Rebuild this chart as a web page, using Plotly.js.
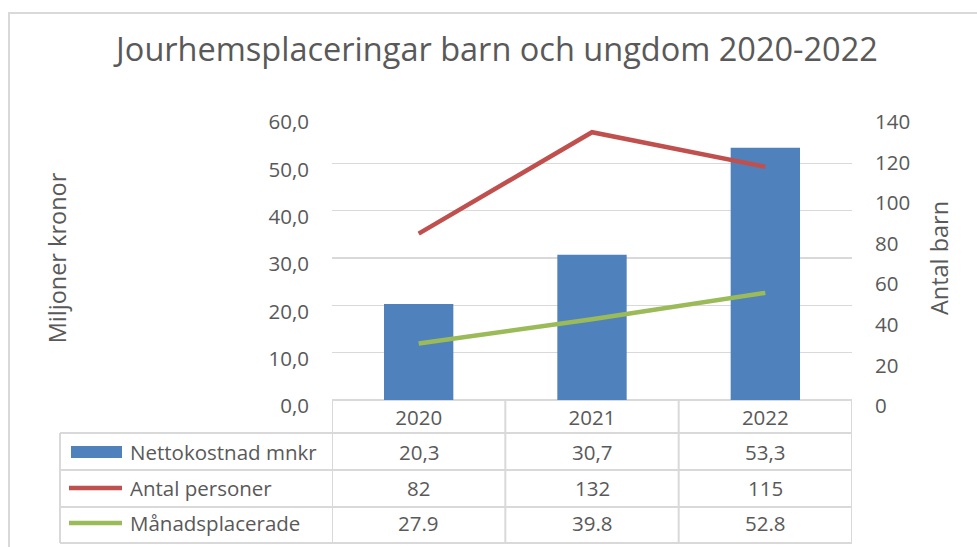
<!DOCTYPE html>
<html>
<head>
<meta charset="utf-8">
<script src="https://cdn.plot.ly/plotly-3.0.1.min.js"></script>
<style>
  html, body { margin: 0; padding: 0; background: #ffffff; }
  #chart { width: 977px; height: 547px; }
</style>
</head>
<body>
<div id="chart"></div>
<script>
// ---- data ----
const years = ['2020', '2021', '2022'];
const seriesNames = ['Nettokostnad mnkr', 'Antal personer', 'Månadsplacerade'];
const nettokostnad = [20.3, 30.7, 53.3];      // miljoner kronor (left axis)
const antalPersoner = [82, 132, 115];         // antal barn (right axis)
const manadsplacerade = [27.9, 39.8, 52.8];   // antal barn (right axis)
const leftTickVals = [0, 10, 20, 30, 40, 50, 60];
const rightTickVals = [0, 20, 40, 60, 80, 100, 120, 140];

// ---- style ----
const FONT = 'Open Sans, Lato, sans-serif';
const TXT = '#595959';
const GRID = '#d9d9d9';
const BLUE = '#4f81bd', RED = '#c0504d', GREEN = '#9bbb59';

// page geometry (px)
const W = 977, H = 547;
const L = 332, R = 852, T = 116, B = 400;
const px = x => (x - L) / (R - L);
const py = y => (B - y) / (B - T);

const fmtComma = v => v.toFixed(1).replace('.', ',');
const fmtDot = v => v.toFixed(1);

const traces = [
  { type: 'bar', name: seriesNames[0], x: years, y: nettokostnad, yaxis: 'y',
    marker: { color: BLUE }, hoverinfo: 'skip' },
  { type: 'scatter', mode: 'lines', name: seriesNames[1], x: years, y: antalPersoner, yaxis: 'y2',
    line: { color: RED, width: 4.5 }, hoverinfo: 'skip' },
  { type: 'scatter', mode: 'lines', name: seriesNames[2], x: years, y: manadsplacerade, yaxis: 'y2',
    line: { color: GREEN, width: 4.5 }, hoverinfo: 'skip' }
];

// table rows
const rowY = [452, 488, 523];
const rowText = [nettokostnad.map(fmtComma), antalPersoner.map(String), manadsplacerade.map(fmtDot)];
const annotations = [];
seriesNames.forEach((name, r) => {
  annotations.push({ xref: 'paper', yref: 'paper', x: px(128), y: py(rowY[r]), xanchor: 'left', yanchor: 'middle',
    text: name, showarrow: false, font: { family: FONT, size: 20.5, color: TXT } });
  years.forEach((yr, c) => {
    annotations.push({ xref: 'x', yref: 'paper', x: c, y: py(rowY[r]), xanchor: 'center', yanchor: 'middle',
      text: rowText[r][c], showarrow: false, font: { family: FONT, size: 20.5, color: TXT } });
  });
});

const shapes = [];
const line = (x0, y0, x1, y1, xref) => ({ type: 'line', xref: xref || 'paper', yref: 'paper',
  x0: x0, y0: y0, x1: x1, y1: y1, line: { color: GRID, width: 2 } });
// outer chart border
shapes.push({ type: 'rect', xref: 'paper', yref: 'paper', x0: px(9), y0: py(H + 20), x1: px(W + 20), y1: py(13),
  line: { color: GRID, width: 2 }, fillcolor: 'rgba(0,0,0,0)', layer: 'below' });
// table horizontal lines
[433, 470, 507, 543].forEach(y => shapes.push(line(px(60), py(y), px(R), py(y))));
// table vertical lines (category boundaries)
[-0.5, 0.5, 1.5, 2.5].forEach(x => shapes.push(line(x, py(B), x, py(543), 'x')));
shapes.push(line(px(60), py(433), px(60), py(543)));
// legend keys inside table
shapes.push({ type: 'rect', xref: 'paper', yref: 'paper', x0: px(71), x1: px(122), y0: py(458), y1: py(446),
  line: { width: 0 }, fillcolor: BLUE });
shapes.push({ type: 'line', xref: 'paper', yref: 'paper', x0: px(69), x1: px(122), y0: py(rowY[1]), y1: py(rowY[1]),
  line: { color: RED, width: 4.5 } });
shapes.push({ type: 'line', xref: 'paper', yref: 'paper', x0: px(69), x1: px(122), y0: py(rowY[2]), y1: py(rowY[2]),
  line: { color: GREEN, width: 4.5 } });

const layout = {
  width: W, height: H,
  margin: { l: L, r: W - R, t: T, b: H - B, pad: 0 },
  paper_bgcolor: '#ffffff', plot_bgcolor: '#ffffff',
  showlegend: false,
  bargap: 0.6,
  font: { family: FONT, color: TXT },
  title: { text: 'Jourhemsplaceringar barn och ungdom 2020-2022', x: 497 / W, xref: 'container', xanchor: 'center',
    y: 1 - 50 / H, yref: 'container', yanchor: 'middle', font: { family: FONT, size: 32.5, color: TXT } },
  xaxis: { type: 'category', range: [-0.5, 2.5], showgrid: false, zeroline: false, showline: false,
    ticks: '', tickfont: { family: FONT, size: 20.5, color: TXT }, ticklabelstandoff: 3, fixedrange: true },
  yaxis: { range: [0, 60], tickvals: leftTickVals, tickformat: '.1f', showgrid: true, gridcolor: GRID, gridwidth: 1.5,
    zeroline: true, zerolinecolor: GRID, zerolinewidth: 2, showline: false, ticks: '',
    tickfont: { family: FONT, size: 20.5, color: TXT }, ticklabelstandoff: 22, ticklabelshift: 6,
    title: { text: 'Miljoner kronor', standoff: 195, font: { family: FONT, size: 23.5, color: TXT } }, fixedrange: true },
  yaxis2: { range: [0, 140], tickvals: rightTickVals, overlaying: 'y', side: 'right', showgrid: false, zeroline: false,
    showline: false, ticks: '', tickfont: { family: FONT, size: 20.5, color: TXT }, ticklabelstandoff: 22, ticklabelshift: 6,
    title: { text: 'Antal barn', standoff: 22, font: { family: FONT, size: 23.5, color: TXT } }, fixedrange: true },
  separators: ', ',
  shapes: shapes,
  annotations: annotations
};

Plotly.newPlot('chart', traces, layout, { staticPlot: true, displayModeBar: false });
</script>
</body>
</html>
